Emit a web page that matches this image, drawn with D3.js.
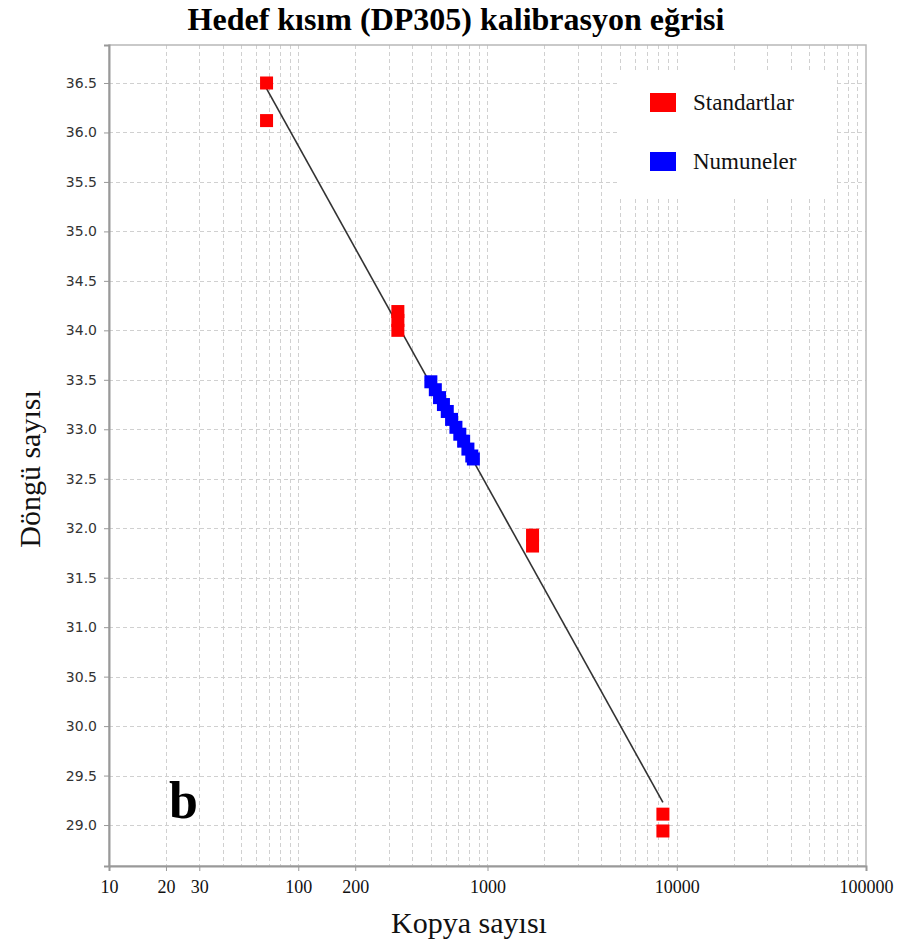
<!DOCTYPE html>
<html><head><meta charset="utf-8">
<script src="https://cdn.jsdelivr.net/npm/d3@7"></script>
<style>body{margin:0;background:#fff}svg{display:block}</style>
</head><body>
<svg id="c" width="908" height="944"></svg>
<script>
// ---- data ----
const stdCopies = [68, 68, 336, 336, 336, 1730, 1730, 8450, 8450];
const stdCt     = [36.5, 36.12, 34.19, 34.1, 34.0, 31.93, 31.82, 29.11, 28.94];
const smpCopies = [502, 530, 558, 585, 613, 646, 681, 714, 748, 788, 826, 842];
const smpCt     = [33.48, 33.40, 33.32, 33.25, 33.18, 33.10, 33.02, 32.95, 32.88, 32.80, 32.73, 32.70];
const xTickValues = [10, 20, 30, 100, 200, 1000, 10000, 100000];
const yTickValues = [29.0, 29.5, 30.0, 30.5, 31.0, 31.5, 32.0, 32.5, 33.0, 33.5, 34.0, 34.5, 35.0, 35.5, 36.0, 36.5];
const legendLabels = ["Standartlar", "Numuneler"];
const legendColors = ["#ff0000", "#0000ff"];
const titleText = "Hedef kısım (DP305) kalibrasyon eğrisi";
const xTitle = "Kopya sayısı";
const yTitle = "Döngü sayısı";

// ---- layout ----
const L = 109, R = 866, T = 45, B = 866;
const svg = d3.select("#c");
const x = d3.scaleLog().domain([10, 100000]).range([L, R]);
const y = d3.scaleLinear().domain([28.586, 36.884]).range([B, T]);

// grid
const minor = [];
for (let d = 10; d < 100000; d *= 10) for (let k = 2; k <= 9; k++) minor.push(d * k);
const grid = svg.append("g").attr("stroke", "#d0d0d0").attr("stroke-dasharray", "4,3").attr("stroke-width", 1);
grid.selectAll(".v").data(minor.concat([100, 1000, 10000])).join("line")
  .attr("x1", d => Math.round(x(d)) + 0.5).attr("x2", d => Math.round(x(d)) + 0.5).attr("y1", T).attr("y2", B);
grid.selectAll(".h").data(yTickValues).join("line")
  .attr("y1", d => Math.round(y(d)) + 0.5).attr("y2", d => Math.round(y(d)) + 0.5).attr("x1", L).attr("x2", R);

// border
svg.append("rect").attr("x", L).attr("y", T).attr("width", R - L).attr("height", B - T)
  .attr("fill", "none").attr("stroke", "#b8b8b8").attr("stroke-width", 1.5);

// legend box
const lg = svg.append("g");
lg.append("rect").attr("x", 617).attr("y", 73).attr("width", 220).attr("height", 124).attr("fill", "#fff");
lg.selectAll(".sw").data(legendLabels).join("rect")
  .attr("x", 650).attr("y", (d, i) => 93 + i * 59).attr("width", 26).attr("height", 19)
  .attr("fill", (d, i) => legendColors[i]);
lg.selectAll(".tx").data(legendLabels).join("text")
  .attr("x", 693).attr("y", (d, i) => 110 + i * 59).text(d => d)
  .attr("font-family", "Liberation Serif, Times New Roman, serif").attr("font-size", 23).attr("fill", "#111");

// regression line (least squares on standards)
const lx = stdCopies.map(v => Math.log10(v));
const mx = d3.mean(lx), my = d3.mean(stdCt);
const slope = d3.sum(lx.map((v, i) => (v - mx) * (stdCt[i] - my))) / d3.sum(lx.map(v => (v - mx) ** 2));
const icpt = my - slope * mx;
const ends = [d3.min(stdCopies), d3.max(stdCopies)];
svg.append("line")
  .attr("x1", x(ends[0])).attr("y1", y(icpt + slope * Math.log10(ends[0])))
  .attr("x2", x(ends[1])).attr("y2", y(icpt + slope * Math.log10(ends[1])))
  .attr("stroke", "#333").attr("stroke-width", 1.6);

// points
const S = 13;
svg.append("g").selectAll("rect").data(smpCopies).join("rect")
  .attr("x", (d) => x(d) - S / 2).attr("y", (d, i) => y(smpCt[i]) - S / 2)
  .attr("width", S).attr("height", S).attr("fill", "#0000ff");
svg.append("g").selectAll("rect").data(stdCopies).join("rect")
  .attr("x", (d) => x(d) - S / 2).attr("y", (d, i) => y(stdCt[i]) - S / 2)
  .attr("width", S).attr("height", S).attr("fill", "#ff0000");

// axes
const yAxis = svg.append("g").attr("transform", `translate(${L},0)`)
  .call(d3.axisLeft(y).tickValues(yTickValues).tickFormat(d3.format(".1f")).tickSize(5).tickPadding(7));
yAxis.select(".domain").attr("stroke", "#999").attr("stroke-width", 2);
yAxis.selectAll(".tick line").attr("stroke", "#999");
yAxis.selectAll("text").attr("font-family", "DejaVu Sans, Verdana, sans-serif").attr("font-size", 14).attr("fill", "#333");

const xAxis = svg.append("g").attr("transform", `translate(0,${B})`)
  .call(d3.axisBottom(x).tickValues(xTickValues).tickFormat(d3.format("d")).tickSize(5).tickPadding(9));
xAxis.select(".domain").attr("stroke", "#999").attr("stroke-width", 2);
xAxis.selectAll(".tick line").attr("stroke", "#999");
xAxis.selectAll("text").attr("font-family", "Liberation Serif, Times New Roman, serif").attr("font-size", 18).attr("fill", "#111");

// titles
svg.append("text").attr("x", 456).attr("y", 30).attr("text-anchor", "middle").text(titleText)
  .attr("font-family", "Liberation Serif, Times New Roman, serif").attr("font-weight", "bold").attr("font-size", 32).attr("fill", "#000");
svg.append("text").attr("x", 469).attr("y", 933).attr("text-anchor", "middle").text(xTitle)
  .attr("font-family", "Liberation Serif, Times New Roman, serif").attr("font-size", 30).attr("fill", "#111");
svg.append("text").attr("transform", "translate(40,469) rotate(-90)").attr("text-anchor", "middle").text(yTitle)
  .attr("font-family", "Liberation Serif, Times New Roman, serif").attr("font-size", 30).attr("fill", "#111");
svg.append("text").attr("x", 169).attr("y", 818).text("b")
  .attr("font-family", "Liberation Serif, Times New Roman, serif").attr("font-weight", "bold").attr("font-size", 52).attr("fill", "#000");
</script>
</body></html>
